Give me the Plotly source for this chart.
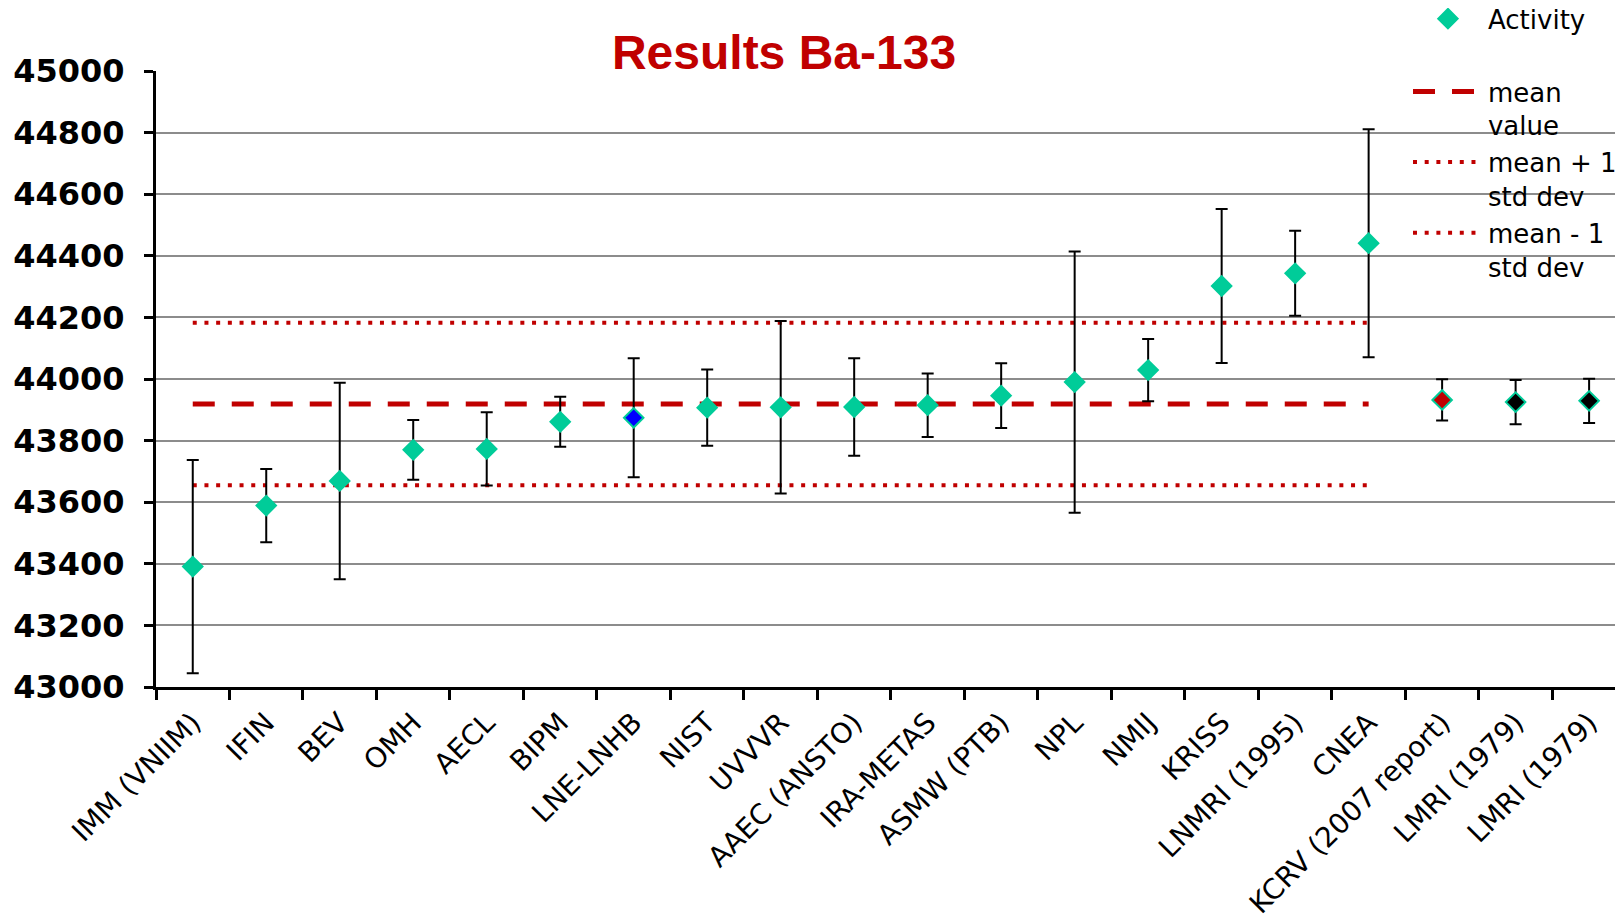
import plotly.graph_objects as go

labs = ["IMM (VNIIM)", "IFIN", "BEV", "OMH", "AECL", "BIPM", "LNE-LNHB", "NIST", "UVVVR",
        "AAEC (ANSTO)", "IRA-METAS", "ASMW (PTB)", "NPL", "NMIJ", "KRISS", "LNMRI (1995)",
        "CNEA", "KCRV (2007 report)", "LMRI (1979)", "LMRI (1979)"]
activity = [43391, 43589, 43669, 43770, 43773, 43861, 43874, 43907, 43908, 43909,
            43915, 43946, 43990, 44029, 44302, 44343, 44441, 43932, 43925, 43929]
uncert = [346, 119, 319, 97, 119, 81, 193, 124, 280, 158,
          103, 105, 424, 101, 250, 138, 370, 67, 72, 72]
fill_colors = ["#00CC99"] * 6 + ["#0000FF"] + ["#00CC99"] * 10 + ["#C00000", "#000000", "#000000"]
mean_value = 43919
std_dev = 264
n_mean = 17  # mean lines span the first 17 labs (IMM ... CNEA)

xs = list(range(len(labs)))
line_x = [xs[0], xs[n_mean - 1]]
red = "#C00000"
teal = "#00CC99"

fig = go.Figure()
fig.add_trace(go.Scatter(x=line_x, y=[mean_value] * 2, mode="lines", name="mean<br>value",
                         line=dict(color=red, width=5, dash="22px,17px"),
                         legendgroup="b", legendrank=2))
fig.add_trace(go.Scatter(x=line_x, y=[mean_value + std_dev] * 2, mode="lines", name="mean + 1<br>std dev",
                         line=dict(color=red, width=4, dash="4px,7.7px"),
                         legendgroup="b", legendrank=3))
fig.add_trace(go.Scatter(x=line_x, y=[mean_value - std_dev] * 2, mode="lines", name="mean - 1<br>std dev",
                         line=dict(color=red, width=4, dash="4px,7.7px"),
                         legendgroup="b", legendrank=4))
fig.add_trace(go.Scatter(x=xs, y=activity, mode="markers", name="Activity",
                         marker=dict(symbol="diamond", size=15, color=fill_colors,
                                     line=dict(color=teal, width=2)),
                         error_y=dict(type="data", array=uncert, symmetric=True,
                                      color="black", thickness=2, width=6),
                         legendgroup="a", legendrank=1))

fig.update_layout(
    width=1623, height=917,
    margin=dict(l=148, r=0, t=63, b=238, autoexpand=False),
    paper_bgcolor="white", plot_bgcolor="white",
    title=dict(text="Results Ba-133", x=776 / 1623, xanchor="center", xref="container",
               y=1 - 44 / 917, yanchor="middle", yref="container",
               font=dict(family="Liberation Sans, Arial", size=48, color=red, weight="bold")),
    legend=dict(xref="paper", yref="paper", x=0.8488, xanchor="left",
                y=1.123, yanchor="top", bgcolor="rgba(0,0,0,0)", valign="top",
                font=dict(family="DejaVu Sans", size=26, color="black"),
                tracegroupgap=36, itemwidth=70),
    showlegend=True,
)
fig.update_xaxes(range=[-0.5, 19.57], tickmode="array", tickvals=xs, ticktext=labs,
                 tickangle=-45, ticks="", showgrid=False, zeroline=False,
                 showline=True, linecolor="black", linewidth=3,
                 ticklabelstandoff=5,
                 tickfont=dict(family="DejaVu Sans", size=28, color="black"),
                 minor=dict(tick0=-0.5, dtick=1, ticks="outside", ticklen=10, tickwidth=3,
                            tickcolor="black", showgrid=False))
fig.update_yaxes(range=[43000, 45000], dtick=200, tick0=43000, tickformat="d", showgrid=True,
                 gridcolor="#8c8c8c", gridwidth=2, zeroline=False,
                 showline=True, linecolor="black", linewidth=3,
                 ticks="outside", ticklen=9, tickwidth=3, tickcolor="black",
                 ticklabelstandoff=13,
                 tickfont=dict(family="DejaVu Sans", size=32, color="black", weight="bold"))

fig.write_html("out.html")
